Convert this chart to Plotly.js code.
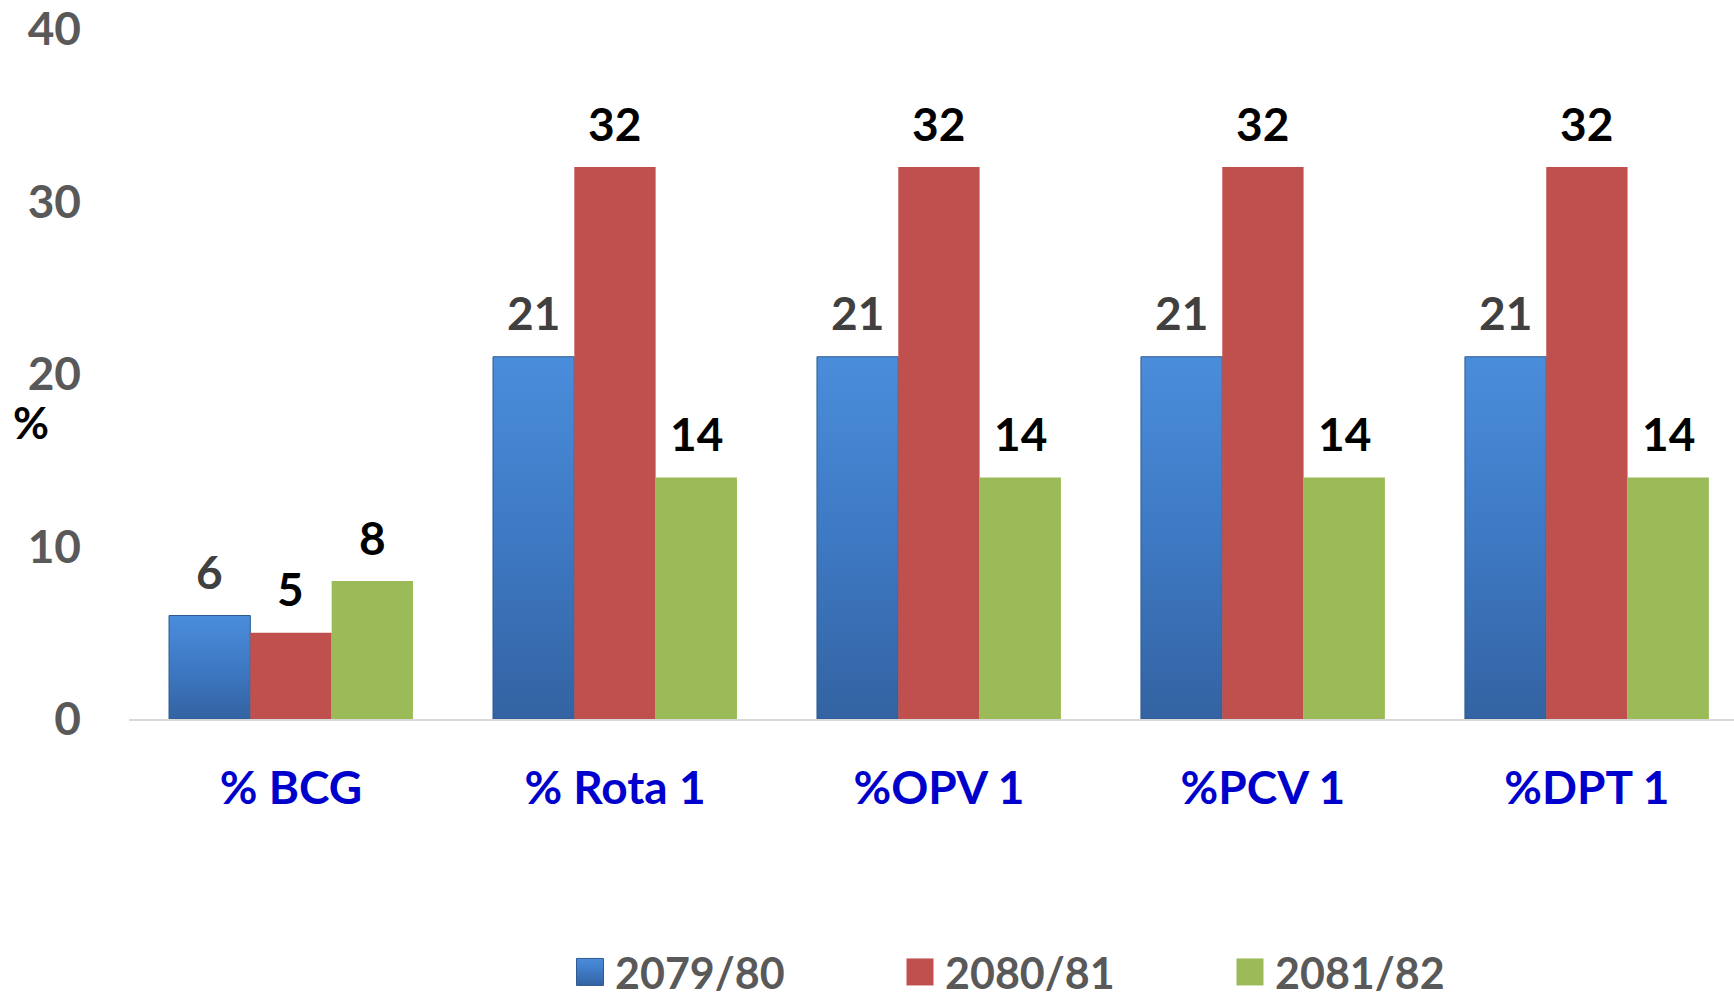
<!DOCTYPE html>
<html>
<head>
<meta charset="utf-8">
<script src="https://cdn.plot.ly/plotly-3.0.1.min.js"></script>
<style>
html,body{margin:0;padding:0;background:#ffffff;}
#chart{width:1734px;height:997px;}
</style>
</head>
<body>
<div id="chart"></div>
<script>
// ---- Data ----
const categories = ['% BCG', '% Rota 1', '%OPV 1', '%PCV 1', '%DPT 1'];
const seriesNames = ['2079/80', '2080/81', '2081/82'];
const values2079 = [6, 21, 21, 21, 21];
const values2080 = [5, 32, 32, 32, 32];
const values2081 = [8, 14, 14, 14, 14];
const yTickValues = [0, 10, 20, 30, 40];
const yAxisLabel = '%';

// ---- Style ----
const FONT = 'Lato, "Open Sans", Arial, sans-serif';
const colors = ['#3d78c4', '#C0504D', '#9BBB59'];
const lineColors = ['#2f5b92', '#C0504D', '#9BBB59'];
const labelColors = ['#404040', '#000000', '#000000'];
const W = 1734, H = 997;
const margin = {l: 129, r: 0, t: 29, b: 278};
const xRange = [-0.5, 4.454];
const bargap = 0.247;

const seriesValues = [values2079, values2080, values2081];

const traces = seriesValues.map((vals, i) => ({
  type: 'bar',
  name: seriesNames[i],
  x: categories,
  y: vals,
  marker: {color: colors[i], line: {color: lineColors[i], width: i === 0 ? 1 : 0}},
  hoverinfo: 'none'
}));

// bar label annotations placed over each bar (offset within its group)
const plotW = W - margin.l - margin.r;
const plotH = H - margin.t - margin.b;
const pxPerCat = plotW / (xRange[1] - xRange[0]);
const barPx = pxPerCat * (1 - bargap) / seriesValues.length;
const annotations = [];
seriesValues.forEach((vals, i) => {
  vals.forEach((v, j) => {
    annotations.push({
      x: categories[j], y: v, xref: 'x', yref: 'y',
      xshift: (i - (seriesValues.length - 1) / 2) * barPx,
      yshift: 44, yanchor: 'middle', xanchor: 'center',
      text: String(v), showarrow: false,
      font: {family: FONT, size: 46, weight: 'bold', color: labelColors[i]}
    });
  });
});
annotations.push({
  xref: 'paper', yref: 'paper',
  x: (31 - margin.l) / plotW, y: (H - margin.b - 422) / plotH,
  xanchor: 'center', yanchor: 'middle', showarrow: false,
  text: yAxisLabel,
  font: {family: FONT, size: 44, weight: 'bold', color: '#000000'}
});

const layout = {
  width: W, height: H,
  margin: Object.assign({autoexpand: false}, margin),
  paper_bgcolor: '#ffffff', plot_bgcolor: '#ffffff',
  barmode: 'group', bargap: bargap, bargroupgap: 0,
  showlegend: true,
  legend: {
    orientation: 'h', xref: 'paper', yref: 'paper',
    x: (575 - margin.l) / plotW, xanchor: 'left',
    y: (H - margin.b - 972) / plotH, yanchor: 'middle',
    font: {family: FONT, size: 43, weight: 'bold', color: '#595959'},
    entrywidth: 285, traceorder: 'normal', bgcolor: 'rgba(0,0,0,0)'
  },
  xaxis: {
    type: 'category', range: xRange, fixedrange: true,
    showline: true, linecolor: '#d9d9d9', linewidth: 2,
    ticks: '', showgrid: false, zeroline: false,
    tickfont: {family: FONT, size: 46, weight: 'bold', color: '#0000CC'},
    ticklabelstandoff: 28
  },
  yaxis: {
    range: [0, 40], tickvals: yTickValues, ticktext: yTickValues.map(String),
    showgrid: false, zeroline: false, showline: false, ticks: '',
    fixedrange: true,
    tickfont: {family: FONT, size: 46, weight: 'bold', color: '#595959'},
    ticklabelstandoff: 47
  },
  annotations: annotations
};

Plotly.newPlot('chart', traces, layout, {displayModeBar: false, staticPlot: true}).then(gd => {
  const svg = gd.querySelector('.main-svg');
  const defs = svg.querySelector('defs');
  const ns = 'http://www.w3.org/2000/svg';
  const grad = document.createElementNS(ns, 'linearGradient');
  grad.setAttribute('id', 'blueGrad');
  grad.setAttribute('x1', '0'); grad.setAttribute('y1', '0');
  grad.setAttribute('x2', '0'); grad.setAttribute('y2', '1');
  [['0', '#4a8ddb'], ['0.5', '#3e79c3'], ['1', '#3363a2']].forEach(([o, c]) => {
    const s = document.createElementNS(ns, 'stop');
    s.setAttribute('offset', o); s.setAttribute('stop-color', c);
    grad.appendChild(s);
  });
  defs.appendChild(grad);
  const barTraces = gd.querySelectorAll('.barlayer .trace');
  if (barTraces[0]) barTraces[0].querySelectorAll('path').forEach(p => { p.style.fill = 'url(#blueGrad)'; });
  const legend = gd.querySelector('.legend');
  if (legend) {
    legend.querySelectorAll('[clip-path]').forEach(el => el.removeAttribute('clip-path'));
  }
  const legendItems = gd.querySelectorAll('.legend .traces');
  legendItems.forEach((item, i) => {
    item.querySelectorAll('.legendpoints path').forEach(p => {
      p.setAttribute('d', 'M28.5,13.5H1.5V-13.5H28.5Z');
      p.removeAttribute('transform');
      if (i === 0) {
        p.style.fill = 'url(#blueGrad)';
        p.style.stroke = '#2f5b92';
        p.style.strokeWidth = '1px';
      }
    });
  });
});
</script>
</body>
</html>
